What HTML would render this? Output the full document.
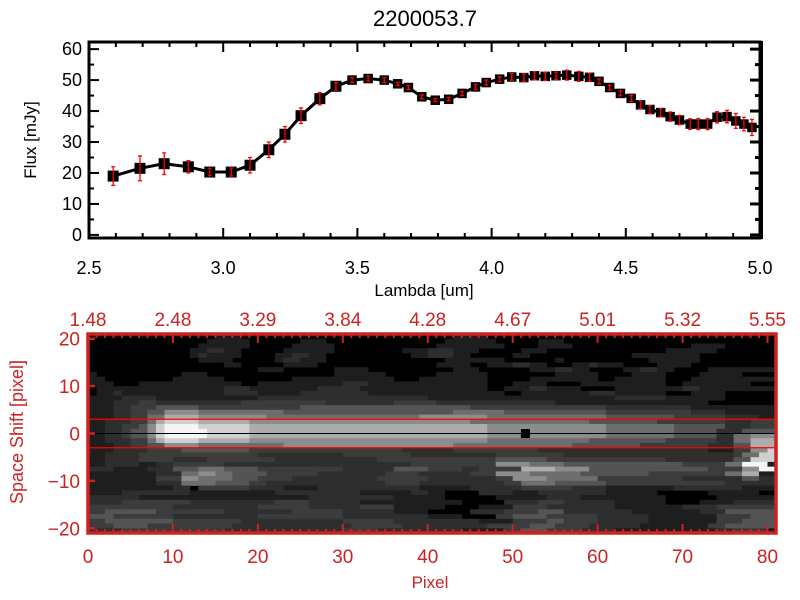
<!DOCTYPE html>
<html><head><meta charset="utf-8"><style>
html,body{margin:0;padding:0;background:#fff;}
svg{display:block;font-family:"Liberation Sans",sans-serif;}
</style></head><body>
<svg id="chart" width="800" height="600" viewBox="0 0 800 600">
<rect x="0" y="0" width="800" height="600" fill="#fff"/>
<g id="topPanel"></g>
<g id="botPanel"></g>
</svg>
<script>
// ---------- Top panel data ----------
const lambdaValues = [2.59,2.69,2.78,2.87,2.95,3.03,3.10,3.17,3.23,3.29,3.36,3.42,3.48,3.54,3.60,3.65,3.69,3.74,3.79,3.84,3.89,3.94,3.98,4.03,4.075,4.12,4.16,4.20,4.24,4.28,4.325,4.365,4.40,4.44,4.48,4.52,4.555,4.59,4.63,4.665,4.70,4.74,4.77,4.805,4.84,4.877,4.91,4.94,4.97];
const fluxValues = [19,21.5,23,22,20.3,20.3,22.5,27.5,32.5,38.5,44,48,50,50.5,50,48.8,47.6,44.6,43.5,43.8,45.7,47.8,49.2,50.3,51,50.8,51.4,51.2,51.4,51.6,51.2,50.9,49.6,47.6,45.7,44.1,42,40.5,39.5,38.2,37.1,35.8,35.8,35.8,38,38.2,36.8,35.8,34.7];
const fluxErrors = [3,4,3.5,2,1.2,1.3,2.5,2.5,2.5,2.5,2,1.2,0.8,0.8,0.8,0.5,0.6,0.6,0.5,0.5,0.7,0.8,0.8,0.8,1,1.2,1.3,1.3,1.2,1.6,1.6,1.3,0.8,0.8,0.8,1,1.2,1.2,1.3,1.5,1.5,1.7,1.8,1.8,1.8,2,2.4,2.2,2.6];
const xTickLabels = ["2.5","3.0","3.5","4.0","4.5","5.0"];
const xTickValues = [2.5,3.0,3.5,4.0,4.5,5.0];
const yTickValues = [0,10,20,30,40,50,60];

// ---------- Bottom panel data ----------
const pixelTicks = [0,10,20,30,40,50,60,70,80];
const wavelengthTickLabels = ["1.48","2.48","3.29","3.84","4.28","4.67","5.01","5.32","5.55"];
const shiftTicks = [20,10,0,-10,-20];
const apertureLines = [3,-3];
const markerPoint = [51.5,0];
const grayLevels = [0,30,46,60,84,110,140,172,208,245];
const imageRows = [
"0:15 1:3 0:25 1:4 0:34",
"0:14 1:5 0:6 1:3 0:14 1:6 0:5 1:3 0:25",
"0:13 1:6 0:5 1:5 0:12 1:8 0:4 1:4 0:14 1:4 0:6",
"0:12 1:2 2:2 1:2 0:5 1:6 0:8 1:3 2:3 1:3 0:5 1:3 0:14 1:6 0:7",
"0:12 1:1 2:1 1:4 0:4 1:2 2:2 1:2 0:10 1:2 2:3 1:2 0:5 1:2 0:12 1:8 0:9",
"0:13 1:4 0:5 1:1 2:2 1:3 0:14 1:7 0:6 1:1 0:10 1:6 0:9",
"0:16 1:2 0:5 1:4 0:14 1:4 0:2 1:3 2:2 1:2 0:3 1:2 2:1 1:3 0:4 1:4 0:10",
"0:20 1:3 0:6 1:4 0:10 1:3 0:6 1:3 2:2 1:2 0:4 1:2 2:2 1:2 0:4 1:8",
"1:1 0:10 1:3 0:15 1:6 0:6 1:6 0:8 1:5 0:4 1:4 0:4 1:5",
"1:2 0:8 1:6 0:8 1:12 0:3 1:8 0:5 1:8 0:2 1:6 0:3 1:10",
"1:3 0:3 1:12 0:2 1:10 2:3 1:14 0:3 1:4 0:4 1:10 0:2 1:8 0:3",
"0:1 1:15 2:3 1:8 2:5 1:15 0:2 1:3 2:2 1:4 0:4 1:8 2:2 1:9",
"0:1 1:2 2:1 1:12 2:4 1:5 2:8 1:16 0:2 1:8 2:3 1:6 0:3 1:4 0:6",
"1:4 2:4 1:12 2:20 1:22 2:6 1:7 0:6",
"1:3 2:3 3:2 2:10 3:10 2:8 3:5 2:14 1:18 0:8",
"1:3 2:2 3:3 4:5 3:12 4:20 3:16 2:10 1:10",
"1:3 2:2 3:2 4:2 6:4 5:10 4:20 5:6 4:12 3:10 2:4 1:6",
"1:3 2:2 3:2 5:2 7:4 6:8 5:18 6:8 5:14 4:8 3:6 2:4 1:2",
"1:2 2:3 3:2 5:1 7:1 8:4 7:6 6:26 5:14 4:8 3:8 2:3 3:3",
"1:2 2:2 3:2 4:1 6:1 8:1 9:4 8:6 7:28 6:14 5:8 4:6 2:3 3:3",
"1:2 2:2 3:1 4:2 6:1 8:1 9:5 8:5 7:28 6:14 5:8 4:5 2:3 4:4",
"1:2 2:2 3:1 4:2 6:1 8:1 9:5 8:5 7:28 6:14 5:8 4:5 2:2 5:2 6:3",
"1:2 2:3 3:2 5:1 7:1 8:4 7:6 6:28 5:12 4:9 3:6 2:2 5:2 7:3",
"1:3 2:2 3:2 4:2 6:4 5:10 6:20 5:14 4:8 3:8 2:3 4:2 7:3",
"1:3 2:4 3:4 4:8 3:18 2:6 3:10 2:20 1:3 3:2 6:2 8:1",
"1:2 2:4 3:14 2:10 3:8 2:10 3:8 2:20 3:1 5:2 8:2",
"1:2 2:4 3:4 2:4 3:8 2:12 3:14 4:6 3:14 2:8 4:2 8:3",
"1:2 2:4 1:2 2:2 3:6 2:22 3:10 6:4 5:4 4:14 3:5 5:2 9:3 1:1",
"2:3 1:4 2:3 4:3 5:3 4:4 3:10 2:6 4:4 3:4 2:2 3:5 7:4 6:4 4:14 3:4 6:2 9:2",
"1:8 2:3 5:2 6:2 5:2 4:4 3:6 2:8 3:4 2:6 3:3 6:4 5:6 4:8 3:9 5:2 7:2 1:2",
"1:8 3:3 6:2 5:4 4:3 3:4 2:10 3:6 2:8 3:2 6:4 5:6 3:10 2:7 4:2 2:2",
"1:8 2:3 5:4 4:4 3:2 2:14 3:4 2:10 3:2 5:4 4:6 3:14 2:6",
"1:10 2:2 0:1 3:6 2:4 1:4 2:12 1:6 2:6 3:6 2:4 1:8 2:8 1:4",
"1:4 2:8 1:10 2:10 1:6 2:2 1:2 0:4 2:4 1:3 2:8 1:6 0:6 1:6 0:2",
"2:6 1:20 2:10 1:6 0:6 1:6 2:4 1:10 0:6 1:7",
"2:4 3:8 2:10 3:4 2:6 1:12 0:5 2:4 3:3 2:6 1:6 0:4 1:4 2:5",
"3:10 2:10 3:6 2:6 3:4 1:6 0:4 1:4 3:4 2:8 1:8 2:4 3:7",
"3:2 4:6 3:8 2:8 3:6 2:6 1:4 0:5 2:4 3:4 4:3 2:8 1:8 2:3 4:6",
"4:3 3:7 2:10 3:10 2:10 1:4 0:4 3:2 4:4 3:6 2:6 1:8 3:4 4:3",
"3:2 4:8 3:8 2:12 3:6 2:10 1:4 3:4 4:2 3:4 2:6 1:8 3:3 4:4",
"3:3 4:4 3:10 2:14 3:6 2:10 3:5 4:3 3:4 2:6 1:8 3:2 4:6",
"2:4 3:12 2:14 3:4 2:10 1:5 3:2 4:3 3:4 2:4 1:12 2:2 3:4 1:1"
];

const NS="http://www.w3.org/2000/svg";
function mk(parent,tag,attrs,text){const e=document.createElementNS(NS,tag);for(const k in attrs)e.setAttribute(k,attrs[k]);if(text!==undefined)e.textContent=text;parent.appendChild(e);return e;}

// ---------- Top panel ----------
const topG=document.getElementById('topPanel');
const T={x0:89,x1:760,y0:42,y1:238,xmin:2.5,xmax:5.0,ymin:-1,ymax:62.3};
const tx=v=>T.x0+(v-T.xmin)/(T.xmax-T.xmin)*(T.x1-T.x0);
const ty=v=>T.y1-(v-T.ymin)/(T.ymax-T.ymin)*(T.y1-T.y0);

let t=mk(topG,'text',{x:425,y:26,'font-size':22,'text-anchor':'middle',fill:'#000'},'2200053.7');



for(let i=0;i<=25;i++){const v=2.5+i*0.1;const x=tx(v);const major=i%5===0;const L=major?10:5;
 let a=mk(topG,'line',{x1:x,y1:T.y1,x2:x,y2:T.y1-L,stroke:'#000','stroke-width':2});
 
 
 let b=mk(topG,'line',{x1:x,y1:T.y0,x2:x,y2:T.y0+L,stroke:'#000','stroke-width':2});
 
 }
for(let v=0;v<=60;v+=5){const y=ty(v);const L=v%10===0?10:5;
 let a=mk(topG,'line',{x1:T.x0,y1:y,x2:T.x0+L,y2:y,stroke:'#000','stroke-width':2});
 
 
 let b=mk(topG,'line',{x1:T.x1,y1:y,x2:T.x1-L,y2:y,stroke:'#000','stroke-width':3});
 
 }
let fr=mk(topG,'rect',{x:T.x0,y:T.y0,width:T.x1-T.x0,height:T.y1-T.y0,fill:'none',stroke:'#000','stroke-width':3});


let rr=mk(topG,'line',{x1:T.x1+1,y1:T.y0-1,x2:T.x1+1,y2:T.y1+1,stroke:'#000','stroke-width':4});



xTickValues.forEach((v,i)=>{let e=mk(topG,'text',{x:tx(v),y:274,'font-size':18,'text-anchor':'middle',fill:'#000'},xTickLabels[i]);
 
 });
yTickValues.forEach(v=>{let e=mk(topG,'text',{x:82,y:ty(v)+6,'font-size':18,'text-anchor':'end',fill:'#000'},String(v));
 
 });
t=mk(topG,'text',{x:424,y:296,'font-size':17,'text-anchor':'middle',fill:'#000'},'Lambda [um]');


t=mk(topG,'text',{x:0,y:0,'font-size':17,'text-anchor':'middle',fill:'#000',transform:'translate(36,140) rotate(-90)'},'Flux [mJy]');



let pts=lambdaValues.map((l,i)=>tx(l).toFixed(1)+','+ty(fluxValues[i]).toFixed(1)).join(' ');
let pl=mk(topG,'polyline',{points:pts,fill:'none',stroke:'#000','stroke-width':3});


lambdaValues.forEach((l,i)=>{const x=tx(l),y=ty(fluxValues[i]);const s=i<12?11:9.5;
 let m=mk(topG,'rect',{x:x-s/2,y:y-s/2,width:s,height:s,fill:'#000'});
 
 
 const y1=ty(fluxValues[i]+fluxErrors[i]),y2=ty(fluxValues[i]-fluxErrors[i]);
 let g=mk(topG,'path',{d:`M${x},${y1}V${y2}M${x-2},${y1}H${x+2}M${x-2},${y2}H${x+2}`,stroke:'#ff0000','stroke-width':1.3,fill:'none'});
 
 });

// ---------- Bottom panel ----------
const botG=document.getElementById('botPanel');
const B={x0:88,x1:776,y0:334,y1:533,xmin:0,xmax:81,ymin:-21,ymax:21};
const bx=v=>B.x0+(v-B.xmin)/(B.xmax-B.xmin)*(B.x1-B.x0);
const by=v=>B.y1-(v-B.ymin)/(B.ymax-B.ymin)*(B.y1-B.y0);
const RED='#cc2222';
let bg=mk(botG,'rect',{x:B.x0,y:B.y0,width:B.x1-B.x0,height:B.y1-B.y0,fill:'#000'});


imageRows.forEach((row,r)=>{let col=0;const yTop=B.ymax-r;
 row.split(' ').forEach(tok=>{const [lv,n]=tok.split(':').map(Number);
  if(lv>0&&col<81){const w=Math.min(n,81-col);const g=grayLevels[lv];
   let c=mk(botG,'rect',{x:bx(col),y:by(yTop),width:bx(col+w)-bx(col)+0.3,height:by(yTop-1)-by(yTop)+0.3,fill:`rgb(${g},${g},${g})`});
   
   }
  col+=n;});});
apertureLines.forEach(v=>{let l=mk(botG,'line',{x1:B.x0,y1:by(v),x2:B.x1,y2:by(v),stroke:'#ff0000','stroke-width':1.3});
 
 });
let cl=mk(botG,'line',{x1:B.x0,y1:by(0),x2:B.x1,y2:by(0),stroke:'#000','stroke-width':1});


let mp=mk(botG,'rect',{x:bx(markerPoint[0])-4.5,y:by(markerPoint[1])-4.5,width:9,height:9,fill:'#000'});


for(let i=0;i<=81;i++){const x=bx(i);const major=i%10===0;const L=major?9:4;
 let a=mk(botG,'line',{x1:x,y1:B.y1,x2:x,y2:B.y1-L,stroke:RED,'stroke-width':2});
 
 
 let b=mk(botG,'line',{x1:x,y1:B.y0,x2:x,y2:B.y0+L,stroke:RED,'stroke-width':2});
 
 }
shiftTicks.forEach(v=>{let a=mk(botG,'line',{x1:B.x0,y1:by(v),x2:B.x0+7,y2:by(v),stroke:RED,'stroke-width':2.5});
 
 
 let e=mk(botG,'text',{x:80,y:by(v)+7,'font-size':19,'text-anchor':'end',fill:RED},v<0?'\u2212'+(-v):String(v));
 
 });
let bf=mk(botG,'rect',{x:B.x0,y:B.y0,width:B.x1-B.x0,height:B.y1-B.y0,fill:'none',stroke:RED,'stroke-width':3.5});


pixelTicks.forEach((v,i)=>{let e=mk(botG,'text',{x:bx(v),y:563,'font-size':19,'text-anchor':'middle',fill:RED},String(v));
 
 
 let w=mk(botG,'text',{x:bx(v),y:326,'font-size':19,'text-anchor':'middle',fill:RED},wavelengthTickLabels[i]);
 
 });
t=mk(botG,'text',{x:430,y:588,'font-size':17,'text-anchor':'middle',fill:RED},'Pixel');


t=mk(botG,'text',{x:0,y:0,'font-size':18,'text-anchor':'middle',fill:RED,transform:'translate(23,432) rotate(-90)'},'Space Shift [pixel]');


</script>
</body></html>
